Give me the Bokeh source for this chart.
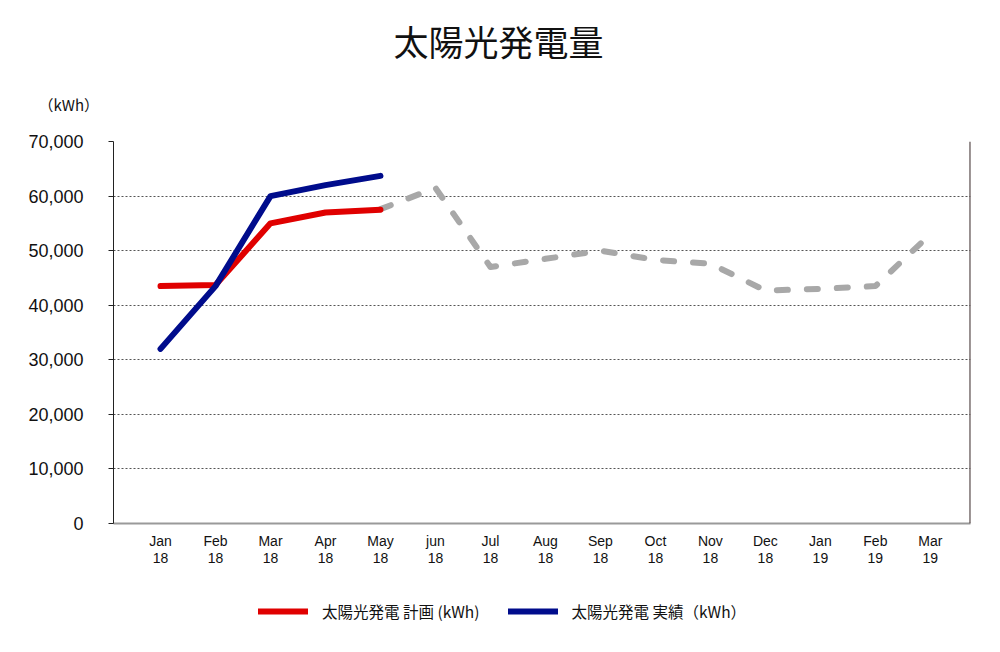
from bokeh.plotting import figure
from bokeh.layouts import column
from bokeh.models import (Range1d, FixedTicker, NumeralTickFormatter, Legend, LegendItem,
                          Title, Span, ColumnDataSource)
from bokeh.embed import file_html
from bokeh.resources import INLINE

months = ["Jan\n18", "Feb\n18", "Mar\n18", "Apr\n18", "May\n18", "jun\n18", "Jul\n18",
          "Aug\n18", "Sep\n18", "Oct\n18", "Nov\n18", "Dec\n18", "Jan\n19", "Feb\n19", "Mar\n19"]
plan_vals = [43500, 43700, 55000, 57000, 57500]
actual_vals = [32000, 43500, 60000, 62000, 63700]
forecast_start = 4
forecast_vals = [57600, 61500, 47000, 48500, 50000, 48300, 47600, 42700, 43000, 43500, 53000]
y_ticks = [0, 10000, 20000, 30000, 40000, 50000, 60000, 70000]

title_text = "太陽光発電量"
unit_text = "（kWh）"
plan_label = "太陽光発電 計画 (kWh)"
actual_label = "太陽光発電 実績（kWh）"

JP = "Noto Sans CJK JP"
NUM = "Liberation Sans"

PLAN_C, ACT_C, FC_C = "#e00000", "#000c8c", "#a8a8a8"

p = figure(width=984, height=580, output_backend="svg", toolbar_location=None,
           x_range=Range1d(-0.855, 14.73), y_range=Range1d(0, 70000),
           min_border_left=113, min_border_right=14, min_border_top=141, min_border_bottom=57)
p.outline_line_color = None
p.background_fill_color = "white"
p.border_fill_color = "white"

plan_src = ColumnDataSource(dict(x=list(range(len(plan_vals))), y=plan_vals))
act_src = ColumnDataSource(dict(x=list(range(len(actual_vals))), y=actual_vals))
fc_src = ColumnDataSource(dict(x=list(range(forecast_start, forecast_start + len(forecast_vals))),
                               y=forecast_vals))

p.line("x", "y", source=fc_src, line_color=FC_C, line_width=6, line_dash="11 19",
       line_cap="round", line_join="round")
p.line("x", "y", source=plan_src, line_color=PLAN_C, line_width=6,
       line_cap="round", line_join="round")
p.line("x", "y", source=act_src, line_color=ACT_C, line_width=6,
       line_cap="round", line_join="round")

# axes
p.xaxis.ticker = FixedTicker(ticks=list(range(len(months))))
p.xaxis.major_label_overrides = {i: m for i, m in enumerate(months)}
p.xaxis.major_tick_line_color = None
p.xaxis.minor_tick_line_color = None
p.xaxis.axis_line_color = "#9a9a9a"
p.xaxis.axis_line_width = 2
p.xaxis.major_label_text_font = NUM
p.xaxis.major_label_text_font_size = "14px"
p.xaxis.major_label_text_color = "#111111"
p.xaxis.major_label_standoff = 3
p.xaxis.major_label_text_line_height = 1.1

p.yaxis.ticker = FixedTicker(ticks=y_ticks)
p.yaxis.formatter = NumeralTickFormatter(format="0,0")
p.yaxis.minor_tick_line_color = None
p.yaxis.major_tick_out = 5
p.yaxis.major_tick_in = 0
p.yaxis.major_tick_line_color = "#222222"
p.yaxis.axis_line_color = "#222222"
p.yaxis.major_label_text_font = NUM
p.yaxis.major_label_text_font_size = "18px"
p.yaxis.major_label_text_color = "#111111"
p.yaxis.major_label_standoff = 25

p.xgrid.grid_line_color = None
p.ygrid.grid_line_color = "#555555"
p.ygrid.grid_line_dash = "2 2"
p.ygrid.grid_line_width = 1

p.add_layout(Span(location=14.725, dimension="height", line_color="#3a2a2a", line_width=1.5))

# unit label (nearest the frame) and main title
p.add_layout(Title(text=unit_text, align="left", offset=-75, standoff=53,
                   text_font=JP, text_font_size="15px", text_font_style="normal",
                   text_color="#111111"), "above")
p.title.text = title_text
p.title.align = "left"
p.title.offset = 280
p.title.text_font = JP
p.title.text_font_size = "35px"
p.title.text_font_style = "normal"
p.title.text_color = "#111111"
p.title.standoff = 0

# legend strip below the chart
lg = figure(width=984, height=56, output_backend="svg", toolbar_location=None,
            x_range=Range1d(0, 1), y_range=Range1d(0, 1),
            min_border_left=0, min_border_right=0, min_border_top=0, min_border_bottom=0)
lg.axis.visible = False
lg.grid.visible = False
lg.outline_line_color = None
lg_plan = lg.line("x", "y", source=plan_src, line_color=PLAN_C, line_width=6, line_cap="round")
lg_act = lg.line("x", "y", source=act_src, line_color=ACT_C, line_width=6, line_cap="round")

legend = Legend(items=[LegendItem(label=plan_label, renderers=[lg_plan]),
                       LegendItem(label=actual_label, renderers=[lg_act])],
                orientation="horizontal", location=(145, 14),
                glyph_width=50, glyph_height=20, label_standoff=14, spacing=28,
                padding=0, margin=0, border_line_color=None, background_fill_alpha=0,
                label_text_font=JP, label_text_font_size="15.5px", label_text_color="#111111")
lg.add_layout(legend, "center")

layout = column(p, lg, spacing=0)
open("out.html", "w").write(file_html(layout, INLINE))
